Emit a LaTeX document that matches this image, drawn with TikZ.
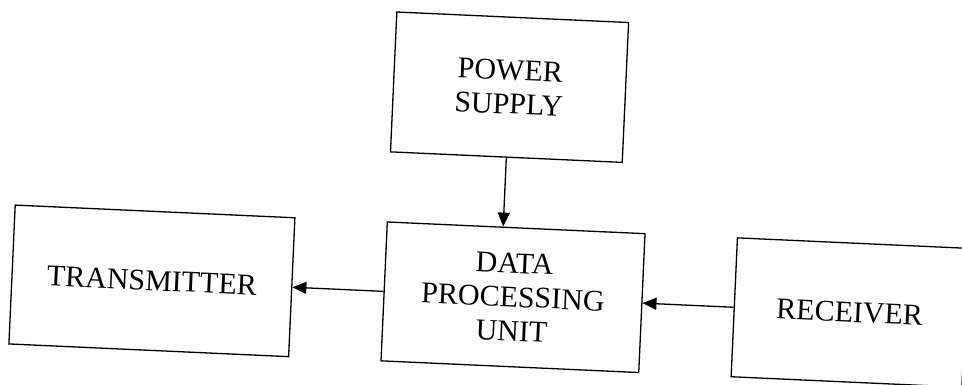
\documentclass[tikz,border=0pt]{standalone}
\usepackage{fontspec}
\setmainfont{Liberation Serif}
\usetikzlibrary{arrows.meta,positioning}
\tikzset{
  blk/.style={draw=black, fill=white, line width=1.3pt, minimum height=139pt,
              align=center, inner sep=0pt,
              font=\fontsize{30}{34}\selectfont},
  arr/.style={-{Triangle[length=14pt,width=12pt]}, line width=1.3pt},
}
\begin{document}
\begin{tikzpicture}[x=1pt,y=1pt]
  \clip (0,0) rectangle (962,-385);
  \begin{scope}[rotate=-2.6, transform shape]
    % Supply block on top
    \node[blk, minimum width=232pt, minimum height=140pt] (ps) at (513,-64) {POWER\\SUPPLY};

    % Bottom row
    \node[blk, minimum width=280pt] (tx)  at (164.5,-273.7) {TRANSMITTER};
    \node[blk, minimum width=258pt] (dpu) at (526,-273.7)   {DATA\\PROCESSING\\UNIT};
    \node[blk, minimum width=231pt] (rx)  at (863,-273.7)   {RECEIVER};

    % Signal flow
    \draw[arr] (ps.south) -- (ps.south |- dpu.north);
    \draw[arr] (rx.west) -- (dpu.east);
    \draw[arr] (dpu.west) -- (tx.east);
  \end{scope}
\end{tikzpicture}
\end{document}
